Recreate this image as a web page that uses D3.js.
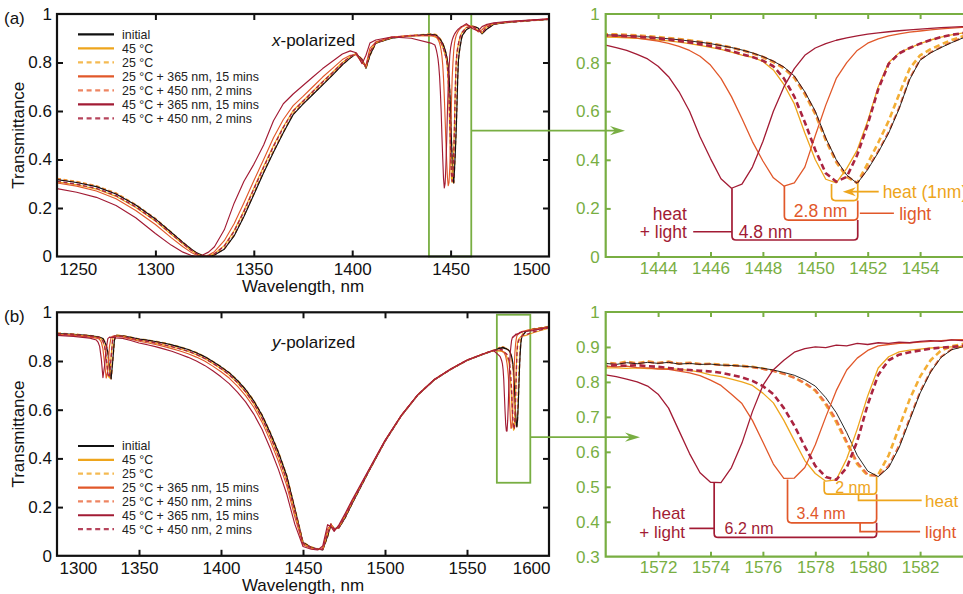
<!DOCTYPE html>
<html>
<head>
<meta charset="utf-8">
<script src="https://cdn.jsdelivr.net/npm/d3@7"></script>
<style>
  html, body { margin: 0; padding: 0; background: #fff; }
  svg { display: block; }
</style>
</head>
<body>
<svg id="chart" width="963" height="594"></svg>
<script>
// ---------------- data: x-polarized spectra ----------------
const xpolWavelength = [
  1250,1260,1270,1280,1290,1300,1308,1314,1318,1321,1324,1327,1330,1335,1340,1345,1350,1355,1360,1365,
  1370,1375,1380,1385,1390,1395,1399,1402,1405,1407,1409,1412,1420,1430,1440,
  1442.0,1442.4,1442.8,1443.2,1443.6,1444.0,1444.4,1444.8,1445.2,1445.6,1446.0,1446.4,1446.8,1447.2,1447.6,
  1448.0,1448.4,1448.8,1449.2,1449.6,1450.0,1450.4,1450.8,1451.2,1451.6,1452.0,1452.4,1452.8,1453.2,1453.6,
  1454.0,1454.4,1454.8,1455.2,1455.6,1456.0,
  1458,1461,1464,1466,1468,1472,1480,1490,1500
];
const xpolInitial = [
  0.317,0.305,0.288,0.258,0.212,0.155,0.100,0.058,0.032,0.015,0.004,0.001,0.006,0.030,0.085,0.165,0.255,0.345,0.430,0.510,
  0.585,0.628,0.668,0.708,0.748,0.790,0.818,0.836,0.812,0.776,0.830,0.880,0.900,0.910,0.916,
  0.914,0.913,0.911,0.909,0.906,0.902,0.898,0.894,0.889,0.884,0.878,0.870,0.862,0.852,0.840,
  0.825,0.806,0.782,0.745,0.680,0.600,0.490,0.400,0.337,0.303,0.360,0.430,0.510,0.610,0.730,
  0.810,0.840,0.862,0.882,0.900,0.912,
  0.935,0.950,0.942,0.918,0.935,0.958,0.966,0.972,0.978
];
const xpolHeat45 = [
  0.308,0.296,0.278,0.248,0.202,0.146,0.092,0.051,0.026,0.010,0.002,0.002,0.012,0.045,0.107,0.190,0.282,0.372,0.458,0.535,
  0.602,0.642,0.682,0.722,0.760,0.800,0.824,0.836,0.806,0.780,0.845,0.882,0.902,0.910,0.912,
  0.905,0.904,0.902,0.900,0.897,0.893,0.889,0.884,0.878,0.871,0.863,0.854,0.843,0.831,0.822,
  0.805,0.770,0.710,0.630,0.510,0.400,0.320,0.305,0.365,0.440,0.560,0.700,0.800,0.840,0.860,
  0.878,0.893,0.905,0.914,0.921,0.926,
  0.945,0.950,0.932,0.922,0.945,0.960,0.967,0.973,0.979
];
const xpolCool25 = [
  0.322,0.310,0.292,0.262,0.215,0.157,0.101,0.058,0.031,0.014,0.004,0.001,0.007,0.033,0.090,0.170,0.262,0.352,0.436,0.515,
  0.590,0.633,0.672,0.712,0.752,0.793,0.821,0.838,0.814,0.778,0.828,0.881,0.902,0.912,0.918,
  0.917,0.916,0.914,0.912,0.909,0.905,0.901,0.897,0.892,0.886,0.879,0.871,0.862,0.851,0.838,
  0.822,0.802,0.776,0.737,0.670,0.588,0.480,0.390,0.330,0.305,0.385,0.470,0.560,0.670,0.775,
  0.830,0.855,0.875,0.893,0.907,0.916,
  0.938,0.951,0.943,0.920,0.937,0.959,0.967,0.973,0.978
];
const xpolUv25 = [
  0.303,0.290,0.270,0.238,0.190,0.132,0.078,0.040,0.018,0.005,0.001,0.006,0.020,0.065,0.135,0.222,0.312,0.400,0.490,0.565,
  0.622,0.660,0.700,0.740,0.776,0.812,0.830,0.832,0.798,0.790,0.858,0.885,0.905,0.912,0.910,
  0.910,0.908,0.905,0.901,0.895,0.888,0.879,0.867,0.850,0.826,0.790,0.735,0.660,0.570,0.475,
  0.395,0.326,0.292,0.305,0.370,0.500,0.625,0.735,0.800,0.850,0.880,0.898,0.910,0.918,0.925,
  0.930,0.935,0.939,0.942,0.945,0.947,
  0.955,0.948,0.926,0.935,0.952,0.962,0.968,0.974,0.979
];
const xpolBlue25 = [
  0.320,0.307,0.290,0.260,0.213,0.156,0.100,0.058,0.031,0.014,0.004,0.001,0.006,0.031,0.087,0.167,0.258,0.348,0.432,0.512,
  0.587,0.630,0.670,0.710,0.750,0.791,0.819,0.837,0.813,0.777,0.829,0.880,0.901,0.911,0.917,
  0.915,0.914,0.912,0.910,0.907,0.903,0.899,0.895,0.890,0.885,0.878,0.870,0.862,0.851,0.839,
  0.824,0.805,0.780,0.742,0.676,0.595,0.486,0.396,0.334,0.304,0.365,0.435,0.515,0.615,0.735,
  0.812,0.842,0.864,0.884,0.902,0.913,
  0.936,0.950,0.942,0.919,0.936,0.958,0.966,0.972,0.978
];
const xpolUv45 = [
  0.280,0.265,0.244,0.210,0.160,0.095,0.047,0.018,0.005,0.000,0.006,0.018,0.040,0.110,0.220,0.310,0.380,0.460,0.560,0.630,
  0.670,0.705,0.740,0.775,0.805,0.835,0.848,0.840,0.795,0.830,0.880,0.893,0.905,0.900,0.880,
  0.872,0.862,0.850,0.834,0.815,0.785,0.742,0.680,0.600,0.495,0.405,0.322,0.283,0.300,0.370,
  0.475,0.600,0.700,0.775,0.830,0.860,0.878,0.892,0.902,0.910,0.917,0.922,0.927,0.931,0.935,
  0.938,0.941,0.944,0.946,0.948,0.950,
  0.960,0.940,0.930,0.948,0.956,0.964,0.970,0.975,0.980
];
const xpolBlue45 = [
  0.310,0.298,0.281,0.251,0.205,0.148,0.094,0.053,0.027,0.011,0.002,0.002,0.011,0.043,0.104,0.186,0.278,0.368,0.454,0.532,
  0.600,0.640,0.680,0.720,0.758,0.798,0.825,0.837,0.808,0.782,0.843,0.882,0.903,0.911,0.913,
  0.912,0.911,0.909,0.906,0.903,0.899,0.894,0.889,0.883,0.876,0.868,0.858,0.847,0.835,0.823,
  0.808,0.785,0.735,0.660,0.555,0.440,0.345,0.310,0.330,0.420,0.545,0.690,0.795,0.838,0.860,
  0.878,0.893,0.905,0.914,0.921,0.926,
  0.944,0.950,0.934,0.921,0.944,0.960,0.967,0.973,0.979
];

// ---------------- data: y-polarized spectra ----------------
const ypolWavelength = [
  1300,1310,1320,1324,1325,1326,1327,1328,1329,1330,1331,1332,1333,1334,1335,1336,1340,1345,1350,1355,
  1360,1365,1370,1375,1380,1385,1390,1395,1400,1405,1410,1415,1420,1425,1430,1435,1440,1445,1450,1455,
  1459,1462,1465,1467,1469,1472,1476,1480,1490,1500,1510,1520,1530,1540,1550,1560,1566,
  1570.0,1570.4,1570.8,1571.2,1571.6,1572.0,1572.4,1572.8,1573.2,1573.6,1574.0,1574.4,1574.8,1575.2,1575.6,
  1576.0,1576.4,1576.8,1577.2,1577.6,1578.0,1578.4,1578.8,1579.2,1579.6,1580.0,1580.4,1580.8,1581.2,1581.6,
  1582.0,1582.4,1582.8,1583.2,1583.6,1584.0,
  1586,1590,1595,1600
];
const ypolInitial = [
  0.913,0.910,0.904,0.900,0.899,0.897,0.895,0.892,0.880,0.865,0.835,0.770,0.726,0.800,0.885,0.905,0.903,0.897,0.890,0.886,
  0.880,0.874,0.866,0.857,0.847,0.834,0.818,0.798,0.776,0.752,0.720,0.683,0.636,0.578,0.505,0.425,0.330,0.195,0.055,0.035,
  0.028,0.024,0.080,0.128,0.112,0.115,0.160,0.215,0.345,0.470,0.575,0.660,0.722,0.765,0.802,0.828,0.842,
  0.853,0.850,0.855,0.852,0.856,0.853,0.856,0.851,0.853,0.850,0.851,0.848,0.847,0.845,0.843,
  0.839,0.834,0.827,0.819,0.806,0.788,0.755,0.712,0.655,0.590,0.545,0.529,0.555,0.612,0.690,
  0.768,0.828,0.870,0.892,0.900,0.905,
  0.922,0.930,0.935,0.940
];
const ypolHeat45 = [
  0.910,0.907,0.901,0.897,0.896,0.894,0.890,0.880,0.860,0.815,0.740,0.730,0.820,0.895,0.903,0.903,0.901,0.893,0.885,0.880,
  0.873,0.866,0.858,0.849,0.839,0.826,0.810,0.790,0.768,0.742,0.710,0.672,0.624,0.564,0.490,0.408,0.310,0.180,0.050,0.033,
  0.027,0.026,0.092,0.132,0.108,0.118,0.166,0.220,0.348,0.472,0.576,0.661,0.723,0.766,0.803,0.829,0.843,
  0.840,0.840,0.839,0.840,0.838,0.839,0.838,0.836,0.833,0.828,0.820,0.815,0.808,0.800,0.790,
  0.768,0.740,0.690,0.632,0.575,0.538,0.516,0.520,0.580,0.665,0.760,0.840,0.872,0.886,0.891,
  0.894,0.897,0.899,0.900,0.901,0.902,
  0.905,0.915,0.925,0.935
];
const ypolCool25 = [
  0.915,0.911,0.905,0.901,0.900,0.898,0.896,0.893,0.882,0.866,0.838,0.775,0.728,0.805,0.888,0.906,0.904,0.898,0.891,0.887,
  0.881,0.875,0.867,0.858,0.848,0.835,0.819,0.799,0.777,0.753,0.722,0.685,0.638,0.580,0.508,0.428,0.333,0.198,0.057,0.036,
  0.029,0.025,0.078,0.126,0.113,0.116,0.162,0.217,0.347,0.472,0.577,0.662,0.724,0.767,0.804,0.830,0.844,
  0.856,0.852,0.858,0.853,0.859,0.854,0.858,0.852,0.855,0.851,0.852,0.849,0.848,0.846,0.843,
  0.838,0.832,0.823,0.812,0.796,0.775,0.735,0.685,0.625,0.565,0.532,0.535,0.590,0.670,0.750,
  0.815,0.862,0.890,0.902,0.908,0.912,
  0.925,0.932,0.937,0.942
];
const ypolUv25 = [
  0.909,0.905,0.898,0.894,0.892,0.888,0.878,0.850,0.790,0.730,0.760,0.860,0.898,0.902,0.902,0.901,0.899,0.890,0.881,0.875,
  0.868,0.860,0.851,0.841,0.830,0.816,0.800,0.779,0.756,0.730,0.697,0.658,0.610,0.549,0.473,0.388,0.290,0.160,0.045,0.030,
  0.026,0.030,0.110,0.128,0.105,0.122,0.172,0.225,0.350,0.473,0.577,0.661,0.723,0.766,0.803,0.829,0.843,
  0.845,0.843,0.845,0.841,0.840,0.837,0.836,0.831,0.826,0.818,0.805,0.790,0.765,0.738,0.690,
  0.628,0.565,0.524,0.525,0.555,0.620,0.700,0.775,0.834,0.868,0.890,0.903,0.907,0.910,0.912,
  0.914,0.916,0.918,0.920,0.921,0.922,
  0.925,0.930,0.935,0.940
];
const ypolBlue25 = [
  0.914,0.910,0.904,0.900,0.899,0.897,0.895,0.892,0.880,0.864,0.836,0.772,0.727,0.802,0.886,0.905,0.903,0.897,0.890,0.885,
  0.879,0.873,0.865,0.856,0.846,0.833,0.817,0.797,0.775,0.751,0.719,0.682,0.635,0.577,0.504,0.424,0.329,0.194,0.054,0.035,
  0.028,0.025,0.079,0.127,0.112,0.115,0.160,0.215,0.345,0.470,0.575,0.660,0.722,0.765,0.802,0.828,0.842,
  0.855,0.851,0.856,0.853,0.857,0.854,0.857,0.852,0.854,0.851,0.851,0.848,0.847,0.845,0.842,
  0.837,0.831,0.823,0.812,0.797,0.777,0.740,0.692,0.630,0.570,0.535,0.530,0.560,0.618,0.695,
  0.772,0.830,0.872,0.893,0.902,0.907,
  0.922,0.930,0.935,0.940
];
const ypolUv45 = [
  0.905,0.901,0.894,0.886,0.878,0.860,0.810,0.732,0.780,0.850,0.892,0.898,0.897,0.897,0.896,0.895,0.893,0.884,0.874,0.867,
  0.859,0.850,0.840,0.828,0.815,0.800,0.782,0.760,0.735,0.707,0.672,0.632,0.582,0.520,0.442,0.355,0.255,0.130,0.038,0.027,
  0.024,0.040,0.128,0.120,0.100,0.128,0.178,0.230,0.352,0.474,0.578,0.662,0.724,0.767,0.804,0.830,0.844,
  0.820,0.815,0.808,0.800,0.788,0.765,0.725,0.660,0.595,0.540,0.513,0.512,0.555,0.625,0.715,
  0.790,0.835,0.862,0.885,0.895,0.900,0.898,0.905,0.903,0.910,0.907,0.912,0.910,0.914,0.912,
  0.916,0.918,0.916,0.920,0.918,0.920,
  0.922,0.925,0.932,0.938
];
const ypolBlue45 = [
  0.911,0.908,0.902,0.898,0.897,0.895,0.891,0.882,0.862,0.818,0.748,0.732,0.815,0.893,0.903,0.903,0.901,0.894,0.886,0.881,
  0.874,0.867,0.859,0.850,0.840,0.827,0.811,0.791,0.769,0.744,0.712,0.674,0.626,0.566,0.492,0.410,0.312,0.183,0.051,0.034,
  0.027,0.026,0.090,0.131,0.109,0.117,0.165,0.219,0.347,0.471,0.576,0.661,0.723,0.766,0.803,0.829,0.843,
  0.846,0.848,0.846,0.848,0.845,0.843,0.840,0.836,0.834,0.832,0.830,0.826,0.820,0.813,0.803,
  0.788,0.765,0.725,0.675,0.615,0.560,0.528,0.520,0.555,0.630,0.735,0.820,0.862,0.878,0.885,
  0.890,0.895,0.898,0.900,0.903,0.905,
  0.908,0.918,0.928,0.937
];

// ---------------- labels, ticks, annotated shifts ----------------
const seriesLabels = ["initial", "45 °C", "25 °C", "25 °C + 365 nm, 15 mins",
                      "25 °C + 450 nm, 2 mins", "45 °C + 365 nm, 15 mins", "45 °C + 450 nm, 2 mins"];
const wideTicksA = [1250, 1300, 1350, 1400, 1450, 1500];
const wideTicksB = [1300, 1350, 1400, 1450, 1500, 1550, 1600];
const zoomTicksA = [1444, 1446, 1448, 1450, 1452, 1454];
const zoomTicksB = [1572, 1574, 1576, 1578, 1580, 1582];
const transTicks = [0, 0.2, 0.4, 0.6, 0.8, 1];
const zoomTransTicksB = [0.3, 0.4, 0.5, 0.6, 0.7, 0.8, 0.9, 1];
const dipInitialA = 1451.62;          // resonance of the initial x-polarized spectrum
const dipInitialB = 1580.34;          // resonance of the initial y-polarized spectrum
const shiftsA = [1, 2.8, 4.8];        // heat, light, heat + light
const shiftsB = [2, 3.4, 6.2];
const zoomWindowA = [1439, 1460.5, 0, 1];
const zoomWindowB = [1568.2, 1588.6, 0.3, 0.99];

// ---------------- styling ----------------
const FONT = '"Liberation Sans", Arial, Helvetica, sans-serif';
const GREEN = "#78ae42";
const C = {
  black: "#111111", yellow: "#eea51c", yellowDash: "#f3ae35",
  orange: "#e1582a", orangeDash: "#ec7047", red: "#a21b34", redDash: "#aa2440"
};
const seriesStyle = [
  { color: C.black,      dash: false },
  { color: C.yellow,     dash: false },
  { color: C.yellowDash, dash: true  },
  { color: C.orange,     dash: false },
  { color: C.orangeDash, dash: true  },
  { color: C.red,        dash: false },
  { color: C.redDash,    dash: true  }
];
const drawOrder = [2, 4, 0, 1, 3, 5, 6];
const fmtX = d3.format("d");

const svg = d3.select("#chart").attr("font-family", FONT);
const defs = svg.append("defs");

function clip(id, x0, y0, x1, y1) {
  defs.append("clipPath").attr("id", id)
    .append("rect").attr("x", x0).attr("y", y0).attr("width", x1 - x0).attr("height", y1 - y0);
}

function drawCurves(g, x, y, wl, sets, clipId, zoomed) {
  const line = d3.line().x(d => x(d[0])).y(d => y(d[1]));
  const cg = g.append("g").attr("clip-path", `url(#${clipId})`);
  drawOrder.forEach(i => {
    const st = seriesStyle[i];
    let w = st.dash ? 1.4 : 1.15;
    let dash = st.dash ? "4,2.6" : null;
    if (zoomed) {
      w = st.dash ? 2.6 : 1.3;
      if (i === 0) w = 0.9;
      if (i === 4) w = 2.0;
      dash = st.dash ? "6,3.5" : null;
    }
    cg.append("path")
      .datum(d3.zip(wl, sets[i]))
      .attr("fill", "none")
      .attr("stroke", st.color)
      .attr("stroke-width", w)
      .attr("stroke-dasharray", dash)
      .attr("stroke-linejoin", "round")
      .attr("d", line);
  });
}

function fmtT(d) { return d === 0 ? "0" : d === 1 ? "1" : d3.format(".1f")(d); }

// black framed overview panel
function widePanel(cfg) {
  const x = d3.scaleLinear().domain(cfg.xDomain).range([57, 549]);
  const y = d3.scaleLinear().domain([0, 1]).range([cfg.y0, cfg.y1]);
  const g = svg.append("g");
  clip(cfg.clipId, 57, cfg.y1, 549, cfg.y0);

  // zoom window box
  const zw = cfg.window;
  g.append("rect")
    .attr("x", x(zw[0])).attr("y", y(zw[3]))
    .attr("width", x(zw[1]) - x(zw[0])).attr("height", y(zw[2]) - y(zw[3]))
    .attr("fill", "none").attr("stroke", GREEN).attr("stroke-width", 1.8);

  drawCurves(g, x, y, cfg.wl, cfg.sets, cfg.clipId, false);

  const ticks = cfg.xTicks;
  const inner = ticks.slice(1, -1);
  const innerY = transTicks.slice(1, -1);
  const bottom = g.append("g").attr("transform", `translate(0,${cfg.y0})`)
    .call(d3.axisBottom(x).tickValues(ticks).tickFormat(fmtX).tickSizeInner(-6).tickSizeOuter(0).tickPadding(6));
  bottom.selectAll(".tick line").filter((d, i) => i === 0 || i === ticks.length - 1).remove();
  bottom.selectAll(".tick text").attr("font-size", 17).attr("fill", "#111");
  bottom.selectAll(".tick text").filter((d, i) => i === 0).attr("text-anchor", "start").attr("dx", 2);
  bottom.selectAll(".tick text").filter((d, i) => i === ticks.length - 1).attr("text-anchor", "end").attr("dx", 1);
  g.append("g").attr("transform", `translate(0,${cfg.y1})`)
    .call(d3.axisTop(x).tickValues(inner).tickSizeInner(-6).tickSizeOuter(0).tickFormat(""));
  const left = g.append("g").attr("transform", "translate(57,0)")
    .call(d3.axisLeft(y).tickValues(transTicks).tickSizeInner(-6).tickSizeOuter(0).tickPadding(5).tickFormat(fmtT));
  left.selectAll(".tick line").filter(d => d === 0 || d === 1).remove();
  left.selectAll(".tick text").attr("font-size", 17).attr("fill", "#111");
  g.append("g").attr("transform", "translate(549,0)")
    .call(d3.axisRight(y).tickValues(innerY).tickSizeInner(-6).tickSizeOuter(0).tickFormat(""));
  g.selectAll(".domain").remove();
  g.selectAll(".tick line").attr("stroke", "#111").attr("stroke-width", 2);

  g.append("rect").attr("x", 57).attr("y", cfg.y1).attr("width", 492).attr("height", cfg.y0 - cfg.y1)
    .attr("fill", "none").attr("stroke", "#111").attr("stroke-width", 2.2);

  // titles
  g.append("text").attr("x", 303).attr("y", cfg.y0 + 35.5).attr("text-anchor", "middle")
    .attr("font-size", 17).attr("fill", "#111").text("Wavelength, nm");
  g.append("text").attr("transform", `translate(24,${(cfg.y0 + cfg.y1) / 2}) rotate(-90)`)
    .attr("text-anchor", "middle").attr("font-size", 17).attr("fill", "#111").text("Transmittance");
  g.append("text").attr("x", 4).attr("y", cfg.y1 + 10).attr("font-size", 17).attr("fill", "#111").text(cfg.tag);
  const pol = g.append("text").attr("x", 272).attr("y", cfg.y1 + cfg.polDy).attr("font-size", 17).attr("fill", "#111");
  pol.append("tspan").attr("font-style", "italic").text(cfg.polLetter);
  pol.append("tspan").text("-polarized");

  // legend
  const lg = g.append("g");
  seriesLabels.forEach((lab, i) => {
    const yy = cfg.legendY + i * cfg.legendStep;
    const st = seriesStyle[i];
    lg.append("line").attr("x1", 78).attr("x2", 114).attr("y1", yy).attr("y2", yy)
      .attr("stroke", st.color).attr("stroke-width", 2.2)
      .attr("stroke-dasharray", st.dash ? "5,3.6" : null).attr("opacity", st.dash ? 0.85 : 1);
    lg.append("text").attr("x", 122).attr("y", yy).attr("dy", "0.36em")
      .attr("font-size", 12.4).attr("fill", "#222").text(lab);
  });

  // arrow towards the zoomed panel
  const ay = y(cfg.arrowT);
  const ax0 = x(zw[1]);
  g.append("line").attr("x1", ax0).attr("x2", cfg.arrowTip - 8).attr("y1", ay).attr("y2", ay)
    .attr("stroke", GREEN).attr("stroke-width", 1.8);
  const t = cfg.arrowTip;
  g.append("path").attr("d", `M${t},${ay}L${t - 15},${ay - 4.6}L${t - 10},${ay}L${t - 15},${ay + 4.6}Z`)
    .attr("fill", GREEN);
  return { x, y };
}

// green zoomed panel
function zoomPanel(cfg) {
  const X0 = 605.7, X1 = 605.7 + (cfg.xDomain[1] - cfg.xDomain[0]) * 26.2;
  const x = d3.scaleLinear().domain(cfg.xDomain).range([X0, X1]);
  const y = d3.scaleLinear().domain(cfg.yDomain).range([cfg.y0, cfg.y1]);
  const g = svg.append("g");
  clip(cfg.clipId, X0, cfg.y1, 963, cfg.y0);

  drawCurves(g, x, y, cfg.wl, cfg.sets, cfg.clipId, true);

  const bottom = g.append("g").attr("transform", `translate(0,${cfg.y0})`)
    .call(d3.axisBottom(x).tickValues(cfg.xTicks).tickFormat(fmtX).tickSizeInner(-5).tickSizeOuter(0).tickPadding(cfg.xPad));
  bottom.selectAll(".tick text").attr("font-size", 17).attr("fill", GREEN);
  g.append("g").attr("transform", `translate(0,${cfg.y1})`)
    .call(d3.axisTop(x).tickValues(cfg.xTicks).tickSizeInner(-5).tickSizeOuter(0).tickFormat(""));
  const left = g.append("g").attr("transform", `translate(${X0},0)`)
    .call(d3.axisLeft(y).tickValues(cfg.yTicks).tickSizeInner(-5).tickSizeOuter(0).tickPadding(6).tickFormat(fmtT));
  left.selectAll(".tick line").filter(d => d === cfg.yDomain[0] || d === cfg.yDomain[1]).remove();
  left.selectAll(".tick text").attr("font-size", 17).attr("fill", GREEN);
  g.selectAll(".domain").remove();
  g.selectAll(".tick line").attr("stroke", GREEN).attr("stroke-width", 2);

  g.append("path").attr("d", `M970,${cfg.y1}H${X0}V${cfg.y0}H970`)
    .attr("fill", "none").attr("stroke", GREEN).attr("stroke-width", 2.2);
  return { x, y, g };
}

function bracket(g, x, y, lam0, t0, tBot, lam1, t1, color) {
  const X0 = x(lam0), X1 = x(lam1), Y0 = y(t0), YB = y(tBot), Y1 = y(t1), r = 4;
  g.append("path")
    .attr("d", `M${X0},${Y0}V${YB - r}Q${X0},${YB} ${X0 + r},${YB}H${X1 - r}Q${X1},${YB} ${X1},${YB - r}V${Y1}`)
    .attr("fill", "none").attr("stroke", color).attr("stroke-width", 1.7);
}
function polyline(g, x, y, pts, color, w) {
  g.append("path").attr("d", d3.line().x(p => x(p[0])).y(p => y(p[1]))(pts))
    .attr("fill", "none").attr("stroke", color).attr("stroke-width", w || 1.7);
}
function label(g, x, y, lam, t, txt, color, anchor, size) {
  g.append("text").attr("x", x(lam)).attr("y", y(t)).attr("dy", "0.36em")
    .attr("text-anchor", anchor).attr("font-size", size || 17).attr("fill", color).text(txt);
}
const nm = v => `${v} nm`;

// ---------------- panel (a) ----------------
const setsA = [xpolInitial, xpolHeat45, xpolCool25, xpolUv25, xpolBlue25, xpolUv45, xpolBlue45];
widePanel({
  xDomain: [1250, 1500], y0: 256.5, y1: 14, clipId: "clipA", wl: xpolWavelength, sets: setsA,
  xTicks: wideTicksA, window: zoomWindowA, tag: "(a)", polLetter: "x", polDy: 32,
  legendY: 34.3, legendStep: 14, arrowT: 0.519, arrowTip: 625
});
const zA = zoomPanel({
  xDomain: [1442, 1456], yDomain: [0, 1], y0: 257, y1: 14, clipId: "clipAz",
  wl: xpolWavelength, sets: setsA, xTicks: zoomTicksA, yTicks: transTicks, xPad: 5
});
{
  const { x, y, g } = zA;
  const heatA = dipInitialA - shiftsA[0], lightA = dipInitialA - shiftsA[1], bothA = dipInitialA - shiftsA[2];
  bracket(g, x, y, heatA, 0.300, 0.232, dipInitialA, 0.303, C.yellow);
  bracket(g, x, y, lightA, 0.292, 0.152, dipInitialA, 0.232, C.orange);
  bracket(g, x, y, bothA, 0.283, 0.070, dipInitialA, 0.152, C.red);
  // heat arrow
  polyline(g, x, y, [[1452.42, 0.269], [1451.3, 0.269]], C.yellow, 1.8);
  const ax = x(1451.05), ay = y(0.269);
  g.append("path").attr("d", `M${ax},${ay}L${ax + 13},${ay - 4.5}L${ax + 9},${ay}L${ax + 13},${ay + 4.5}Z`).attr("fill", C.yellow);
  label(g, x, y, 1452.57, 0.269, `heat (${shiftsA[0]}nm)`, C.yellow, "start", 17.5);
  polyline(g, x, y, [[dipInitialA + 0.08, 0.18], [1453.0, 0.18]], C.orange);
  label(g, x, y, 1453.2, 0.18, "light", C.orange, "start", 17.5);
  label(g, x, y, 1450.2, 0.19, nm(shiftsA[1]), C.orange, "middle", 17.5);
  label(g, x, y, 1448.1, 0.104, nm(shiftsA[2]), C.red, "middle", 17.5);
  polyline(g, x, y, [[1445.34, 0.104], [bothA, 0.104]], C.red);
  label(g, x, y, 1445.1, 0.18, "heat", C.red, "end", 17.5);
  label(g, x, y, 1445.1, 0.104, "+ light", C.red, "end", 17.5);
}

// ---------------- panel (b) ----------------
const setsB = [ypolInitial, ypolHeat45, ypolCool25, ypolUv25, ypolBlue25, ypolUv45, ypolBlue45];
widePanel({
  xDomain: [1300, 1600], y0: 555.8, y1: 312.3, clipId: "clipB", wl: ypolWavelength, sets: setsB,
  xTicks: wideTicksB, window: zoomWindowB, tag: "(b)", polLetter: "y", polDy: 36,
  legendY: 446, legendStep: 13.85, arrowT: 0.487, arrowTip: 640
});
const zB = zoomPanel({
  xDomain: [1570, 1584], yDomain: [0.3, 1], y0: 556.7, y1: 312, clipId: "clipBz",
  wl: ypolWavelength, sets: setsB, xTicks: zoomTicksB, yTicks: zoomTransTicksB, xPad: 4
});
{
  const { x, y, g } = zB;
  const heatB = dipInitialB - shiftsB[0], lightB = dipInitialB - shiftsB[1], bothB = dipInitialB - shiftsB[2];
  bracket(g, x, y, heatB, 0.516, 0.479, dipInitialB, 0.529, C.yellow);
  bracket(g, x, y, lightB, 0.521, 0.397, dipInitialB, 0.479, C.orange);
  bracket(g, x, y, bothB, 0.512, 0.355, dipInitialB, 0.397, C.red);
  label(g, x, y, 1579.44, 0.499, nm(shiftsB[0]), C.yellow, "middle", 16);
  polyline(g, x, y, [[1579.65, 0.479], [1579.65, 0.461], [1582.06, 0.461]], C.yellow);
  label(g, x, y, 1582.19, 0.461, "heat", C.yellow, "start");
  label(g, x, y, 1578.22, 0.424, nm(shiftsB[1]), C.orange, "middle", 16);
  polyline(g, x, y, [[1579.71, 0.397], [1579.71, 0.372], [1582.0, 0.372]], C.orange);
  label(g, x, y, 1582.19, 0.372, "light", C.orange, "start");
  label(g, x, y, 1575.47, 0.381, nm(shiftsB[2]), C.red, "middle", 16);
  polyline(g, x, y, [[1573.19, 0.381], [bothB, 0.381]], C.red);
  label(g, x, y, 1573.03, 0.426, "heat", C.red, "end");
  label(g, x, y, 1573.03, 0.372, "+ light", C.red, "end");
}
</script>
</body>
</html>
